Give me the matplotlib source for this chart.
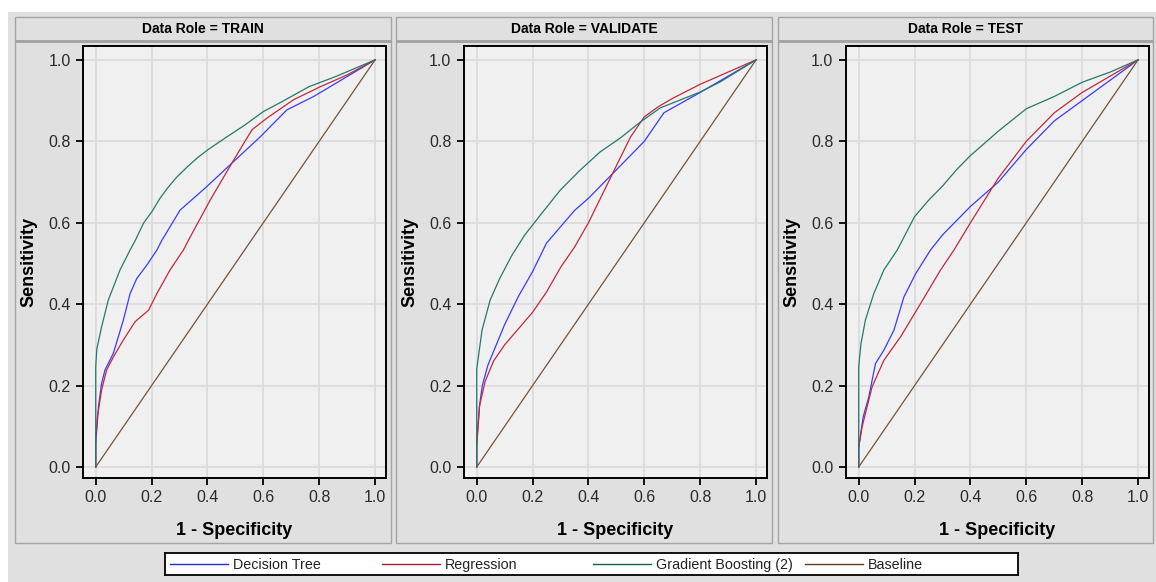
import matplotlib
matplotlib.use('Agg')
import matplotlib.pyplot as plt
from matplotlib.patches import Rectangle
from matplotlib.lines import Line2D

W, H = 1156, 582

roles = ['TRAIN', 'VALIDATE', 'TEST']
series = ['Decision Tree', 'Regression', 'Gradient Boosting (2)', 'Baseline']
colors = ['#3a3aff', '#c0283c', '#237a6a', '#74553a']
legend_colors = ['#2233cc', '#a81e30', '#146050', '#5e3f1e']
ticks = [0.0, 0.2, 0.4, 0.6, 0.8, 1.0]
tick_labels = ['0.0', '0.2', '0.4', '0.6', '0.8', '1.0']

# ROC points (1 - specificity, sensitivity)
tree_train_x = [0, 0, 0.01, 0.021, 0.033, 0.063, 0.099, 0.123, 0.147, 0.183, 0.219, 0.237, 0.302, 0.398, 0.487, 0.589, 0.684, 0.78, 0.9, 1]
tree_train_y = [0, 0.057, 0.148, 0.205, 0.238, 0.279, 0.361, 0.426, 0.463, 0.496, 0.533, 0.557, 0.631, 0.689, 0.746, 0.811, 0.877, 0.91, 0.959, 1]
reg_train_x = [0, 0, 0.006, 0.021, 0.039, 0.063, 0.099, 0.141, 0.189, 0.219, 0.266, 0.314, 0.332, 0.41, 0.487, 0.559, 0.613, 0.708, 0.804, 0.9, 1]
reg_train_y = [0, 0.07, 0.123, 0.189, 0.238, 0.27, 0.312, 0.357, 0.385, 0.426, 0.484, 0.533, 0.557, 0.656, 0.746, 0.828, 0.857, 0.902, 0.934, 0.963, 1]
gb_train_x = [0, 0, 0.004, 0.021, 0.045, 0.087, 0.123, 0.142, 0.172, 0.202, 0.23, 0.257, 0.29, 0.329, 0.365, 0.401, 0.461, 0.534, 0.6, 0.666, 0.763, 0.859, 1]
gb_train_y = [0, 0.246, 0.29, 0.344, 0.41, 0.484, 0.533, 0.557, 0.6, 0.628, 0.66, 0.685, 0.712, 0.738, 0.76, 0.779, 0.807, 0.84, 0.873, 0.897, 0.934, 0.959, 1]

tree_val_x = [0, 0, 0.01, 0.02, 0.04, 0.07, 0.1, 0.15, 0.2, 0.25, 0.3, 0.35, 0.4, 0.5, 0.6, 0.67, 0.8, 0.9, 1]
tree_val_y = [0, 0.06, 0.15, 0.2, 0.25, 0.3, 0.35, 0.42, 0.48, 0.55, 0.59, 0.63, 0.66, 0.73, 0.8, 0.87, 0.92, 0.96, 1]
reg_val_x = [0, 0, 0.01, 0.03, 0.06, 0.1, 0.15, 0.2, 0.25, 0.3, 0.35, 0.4, 0.45, 0.5, 0.55, 0.6, 0.65, 0.7, 0.8, 0.9, 1]
reg_val_y = [0, 0.05, 0.15, 0.21, 0.26, 0.3, 0.34, 0.38, 0.43, 0.49, 0.54, 0.6, 0.67, 0.74, 0.81, 0.86, 0.885, 0.905, 0.94, 0.97, 1]
gb_val_x = [0, 0, 0.019, 0.048, 0.083, 0.126, 0.172, 0.227, 0.299, 0.37, 0.442, 0.514, 0.585, 0.657, 0.8, 0.872, 1]
gb_val_y = [0, 0.24, 0.336, 0.41, 0.464, 0.52, 0.57, 0.618, 0.68, 0.729, 0.774, 0.808, 0.847, 0.882, 0.921, 0.946, 1]

tree_test_x = [0, 0, 0.016, 0.036, 0.06, 0.09, 0.126, 0.162, 0.204, 0.257, 0.3, 0.4, 0.5, 0.6, 0.7, 0.8, 0.9, 1]
tree_test_y = [0, 0.049, 0.123, 0.172, 0.254, 0.287, 0.336, 0.418, 0.475, 0.533, 0.57, 0.64, 0.7, 0.78, 0.85, 0.9, 0.95, 1]
reg_test_x = [0, 0, 0.012, 0.03, 0.048, 0.09, 0.15, 0.222, 0.293, 0.341, 0.4, 0.5, 0.6, 0.7, 0.8, 0.9, 1]
reg_test_y = [0, 0.049, 0.098, 0.148, 0.197, 0.262, 0.32, 0.402, 0.484, 0.533, 0.6, 0.71, 0.8, 0.87, 0.92, 0.96, 1]
gb_test_x = [0, 0, 0.008, 0.024, 0.054, 0.09, 0.138, 0.2, 0.25, 0.3, 0.35, 0.4, 0.5, 0.6, 0.7, 0.8, 0.9, 1]
gb_test_y = [0, 0.246, 0.303, 0.361, 0.426, 0.484, 0.533, 0.615, 0.655, 0.69, 0.73, 0.765, 0.825, 0.88, 0.91, 0.945, 0.97, 1]

baseline_x = [0, 1]
baseline_y = [0, 1]

curves = {
    'TRAIN': [(tree_train_x, tree_train_y), (reg_train_x, reg_train_y), (gb_train_x, gb_train_y), (baseline_x, baseline_y)],
    'VALIDATE': [(tree_val_x, tree_val_y), (reg_val_x, reg_val_y), (gb_val_x, gb_val_y), (baseline_x, baseline_y)],
    'TEST': [(tree_test_x, tree_test_y), (reg_test_x, reg_test_y), (gb_test_x, gb_test_y), (baseline_x, baseline_y)],
}


def fbox(x0, y0, x1, y1):
    # pixel box (top-left origin) -> figure fraction [l, b, w, h]
    return [x0 / W, 1 - y1 / H, (x1 - x0) / W, (y1 - y0) / H]


def rect(x0, y0, x1, y1, **kw):
    l, b, w, h = fbox(x0, y0, x1, y1)
    fig.patches.append(Rectangle((l, b), w, h, transform=fig.transFigure, figure=fig, zorder=-10, **kw))


fig = plt.figure(figsize=(W / 100, H / 100), dpi=100, facecolor='white')
rect(8, 12, W, H, facecolor='#e0e0e0', edgecolor='none')

panel_x = [(15, 391), (396, 772), (778, 1153)]
axes_x = [(83, 386), (464, 767), (846, 1149)]

for i, role in enumerate(roles):
    px0, px1 = panel_x[i]
    rect(px0, 17, px1, 543, facecolor='#e0e0e0', edgecolor='#a4a4a4', linewidth=1.0)
    rect(px0, 40, px1, 42.5, facecolor='#a4a4a4', edgecolor='none')
    fig.text((px0 + px1) / 2 / W, 1 - 29 / H, 'Data Role = ' + role,
             ha='center', va='center', fontsize=10, fontweight='bold', family='Liberation Sans')

    ax0, ax1 = axes_x[i]
    ax = fig.add_axes(fbox(ax0, 46, ax1, 478))
    ax.set_facecolor('#f0f0f0')
    for (xs, ys), c in zip(curves[role], colors):
        ax.plot(xs, ys, color=c, linewidth=0.9)
    ax.set_xlim(-0.0455, 1.039)
    ax.set_ylim(-0.027, 1.034)
    ax.set_xticks(ticks)
    ax.set_xticklabels(tick_labels)
    ax.set_yticks(ticks)
    ax.set_yticklabels(tick_labels)
    ax.grid(True, color='#dcdcdc', linewidth=1.3)
    ax.set_axisbelow(True)
    for s in ax.spines.values():
        s.set_linewidth(1.4)
        s.set_color('black')
    ax.tick_params(length=5, width=1.3, pad=4, labelsize=11.5, labelcolor='#2a2a2a')
    for lab in ax.get_xticklabels() + ax.get_yticklabels():
        lab.set_family('Liberation Sans')
    ax.set_xlabel('1 - Specificity', fontsize=13, fontweight='bold', family='Liberation Sans', labelpad=12)
    ax.set_ylabel('Sensitivity', fontsize=13, fontweight='bold', family='Liberation Sans', labelpad=8)

# legend strip
lax = fig.add_axes(fbox(165, 553, 1018, 575))
lax.set_xlim(165, 1018)
lax.set_ylim(0, 1)
lax.set_xticks([])
lax.set_yticks([])
lax.set_facecolor('white')
for s in lax.spines.values():
    s.set_linewidth(1.3)
    s.set_color('black')
for i, (name, c) in enumerate(zip(series, legend_colors)):
    x0 = 170 + i * 211.7
    lax.add_line(Line2D([x0, x0 + 58], [0.5, 0.5], color=c, linewidth=1.0))
    lax.text(x0 + 63, 0.45, name, ha='left', va='center', fontsize=10.3,
             family='Liberation Sans', color='#222222')

fig.savefig('out.png', dpi=100, facecolor='white')
